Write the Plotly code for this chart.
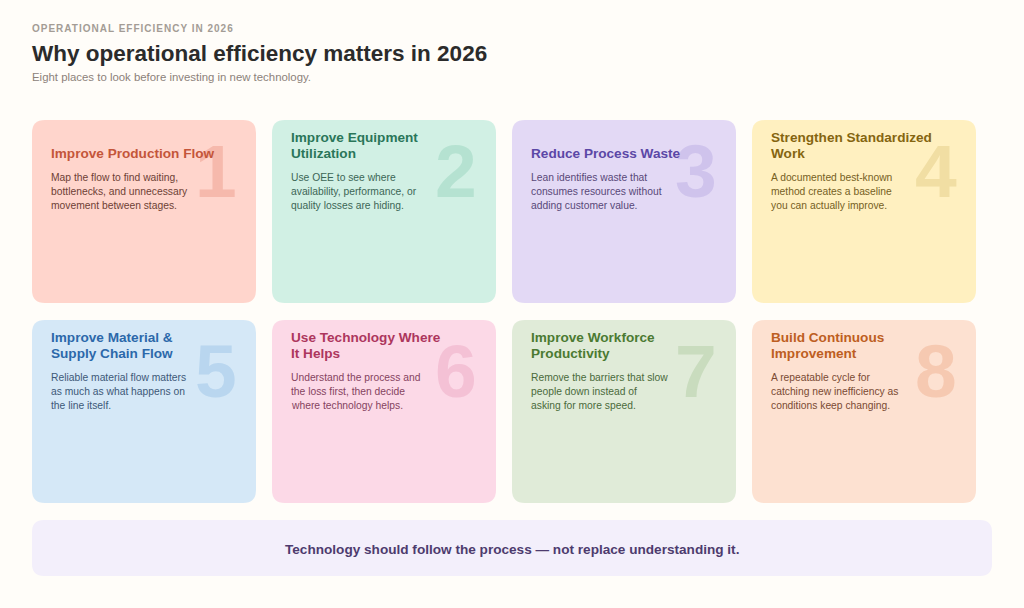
import plotly.graph_objects as go

# card content, left-to-right, top-to-bottom
titles = [
    "Improve Production Flow",
    "Improve Equipment\nUtilization",
    "Reduce Process Waste",
    "Strengthen Standardized\nWork",
    "Improve Material &\nSupply Chain Flow",
    "Use Technology Where\nIt Helps",
    "Improve Workforce\nProductivity",
    "Build Continuous\nImprovement",
]
bodies = [
    "Map the flow to find waiting,\nbottlenecks, and unnecessary\nmovement between stages.",
    "Use OEE to see where\navailability, performance, or\nquality losses are hiding.",
    "Lean identifies waste that\nconsumes resources without\nadding customer value.",
    "A documented best-known\nmethod creates a baseline\nyou can actually improve.",
    "Reliable material flow matters\nas much as what happens on\nthe line itself.",
    "Understand the process and\nthe loss first, then decide\nwhere technology helps.",
    "Remove the barriers that slow\npeople down instead of\nasking for more speed.",
    "A repeatable cycle for\ncatching new inefficiency as\nconditions keep changing.",
]
numbers = ["1", "2", "3", "4", "5", "6", "7", "8"]

card_bg = ["#ffd5cc", "#d1f0e4", "#e3d9f5", "#fff0c0", "#d5e8f7", "#fcd9e7", "#e0ebd8", "#fde1d1"]
title_col = ["#c4553a", "#2a7659", "#5b47a6", "#856510", "#2c68aa", "#ad365d", "#4b7a32", "#bd5e22"]
body_col = ["#6e3f35", "#3c6656", "#584878", "#76601f", "#3d5877", "#854360", "#4a6a3b", "#7a4a33"]
num_col = ["#f6b9ac", "#b5e2d1", "#cfc3ec", "#f1dea3", "#b9d6ef", "#f4c1d5", "#c9dcbe", "#f6c9b1"]

eyebrow = "OPERATIONAL EFFICIENCY IN 2026"
headline = "Why operational efficiency matters in 2026"
subhead = "Eight places to look before investing in new technology."
footer = "Technology should follow the process \u2014 not replace understanding it."

FONT = "Liberation Sans, Arial, sans-serif"
W, H = 1024, 608


def rounded(x0, y0, x1, y1, r):
    return (f"M{x0+r},{y0} L{x1-r},{y0} Q{x1},{y0} {x1},{y0+r} "
            f"L{x1},{y1-r} Q{x1},{y1} {x1-r},{y1} L{x0+r},{y1} "
            f"Q{x0},{y1} {x0},{y1-r} L{x0},{y0+r} Q{x0},{y0} {x0+r},{y0} Z")


shapes = []
ann = []

card_w, card_h, gap = 224, 183, 16
for i in range(8):
    col, row = i % 4, i // 4
    x0 = 32 + col * (card_w + gap)
    y0 = 120 + row * (card_h + 17)
    shapes.append(dict(type="path", path=rounded(x0, y0, x0 + card_w, y0 + card_h, 13),
                       fillcolor=card_bg[i], line=dict(width=0), layer="below"))
    # big faded number behind the text
    ann.append(dict(x=x0 + card_w - 17, y=y0 + 51, text=f"<b>{numbers[i]}</b>",
                    xanchor="right", yanchor="middle",
                    font=dict(family=FONT, size=75, color=num_col[i])))
    tl = titles[i].split("\n")
    for k, line in enumerate(reversed(tl)):
        ann.append(dict(x=x0 + 17, y=y0 + 33 - k * 16, text=f"<b>{line}</b>",
                        xanchor="left", yanchor="middle",
                        font=dict(family=FONT, size=13.6, color=title_col[i])))
    for k, line in enumerate(bodies[i].split("\n")):
        ann.append(dict(x=x0 + 17, y=y0 + 57 + k * 14, text=line,
                        xanchor="left", yanchor="middle",
                        font=dict(family=FONT, size=10.3, color=body_col[i])))

shapes.append(dict(type="path", path=rounded(32, 520, 992, 576, 12),
                   fillcolor="#f3effb", line=dict(width=0), layer="below"))
ann.append(dict(x=512, y=549, text=f"<b>{footer}</b>", xanchor="center", yanchor="middle",
                font=dict(family=FONT, size=13.6, color="#4d3b6e")))

ann.append(dict(x=30, y=28, text=f"<b>{eyebrow}</b>", xanchor="left", yanchor="middle",
                font=dict(family=FONT, size=10, color="#a39c95")))
ann.append(dict(x=30, y=53, text=f"<b>{headline}</b>", xanchor="left", yanchor="middle",
                font=dict(family=FONT, size=22.5, color="#2b2b2b")))
ann.append(dict(x=30, y=77, text=subhead, xanchor="left", yanchor="middle",
                font=dict(family=FONT, size=11.4, color="#8c817a")))

for a in ann:
    a.update(xref="x", yref="y", showarrow=False)

fig = go.Figure()
fig.update_layout(
    width=W, height=H,
    margin=dict(l=0, r=0, t=0, b=0),
    paper_bgcolor="#fffdf9", plot_bgcolor="#fffdf9",
    xaxis=dict(range=[0, W], visible=False, fixedrange=True),
    yaxis=dict(range=[H, 0], visible=False, fixedrange=True),
    shapes=shapes, annotations=ann, showlegend=False,
)

# drop the page margin and letter-space the small eyebrow line (keeping its left edge)
post = """
document.body.style.margin = '0';
document.body.style.background = '#fffdf9';
document.querySelectorAll('.annotation-text').forEach(function (t) {
  if (t.textContent === '%s') {
    var before = t.getComputedTextLength();
    t.style.letterSpacing = '1px';
    var after = t.getComputedTextLength();
    t.setAttribute('x', parseFloat(t.getAttribute('x') || 0) + (after - before) / 2);
  }
});
""" % eyebrow
fig.write_html("out.html", config={"displayModeBar": False}, post_script=post)
